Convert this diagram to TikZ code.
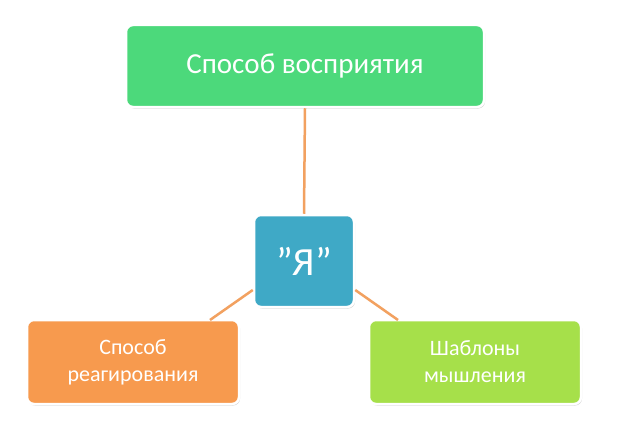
\documentclass[tikz,border=0pt]{standalone}
\usepackage{fontspec}
\setmainfont{Carlito}
\usetikzlibrary{shadows}
\definecolor{topg}{HTML}{4CD97B}
\definecolor{teal}{HTML}{3FA9C6}
\definecolor{orng}{HTML}{F79A4E}
\definecolor{lgrn}{HTML}{A6E04A}
\definecolor{conn}{HTML}{F2A160}
\tikzset{box/.style={draw=white,line width=2.5pt,rounded corners=7pt,text=white,align=center,inner sep=0pt,drop shadow={shadow xshift=1pt,shadow yshift=-1.5pt,opacity=0.35}},
link/.style={conn,line width=2.5pt}}
\begin{document}
\begin{tikzpicture}[x=1pt,y=-1pt]
\useasboundingbox (0,0) rectangle (620,444);
\fill[white] (0,0) rectangle (620,444);
\node[box,fill=topg,minimum width=358pt,minimum height=82pt,font=\fontsize{29}{34}\selectfont] (top) at (305,66) {Способ восприятия};
\node[box,fill=teal,minimum width=100pt,minimum height=92pt,font=\fontsize{40}{46}\selectfont] (ya) at (304,261) {"Я"};
\node[box,fill=orng,minimum width=212pt,minimum height=84pt,font=\fontsize{22}{27}\selectfont] (left) at (133,362) {Способ\\реагирования};
\node[box,fill=lgrn,minimum width=212pt,minimum height=84pt,font=\fontsize{22}{27}\selectfont] (right) at (475,362) {Шаблоны\\мышления};
\begin{scope}[on background layer/.try]
\end{scope}
\draw[link] (top.south) -- (ya.north);
\draw[link] (ya.west |- 0,290) -- (210,320);
\draw[link] (ya.east |- 0,290) -- (398,320);
\end{tikzpicture}
\end{document}
